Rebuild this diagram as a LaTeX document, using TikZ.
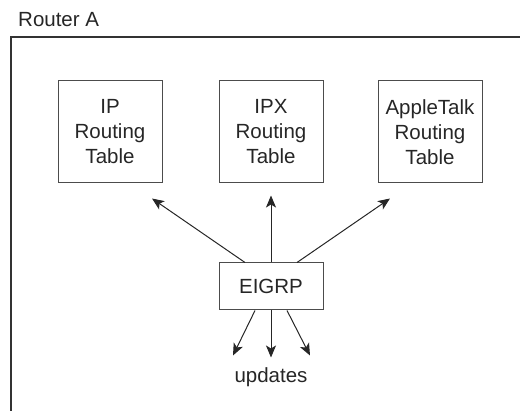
\documentclass[tikz,border=0pt]{standalone}
\usepackage{fontspec}
\setmainfont{Liberation Sans}
\usetikzlibrary{arrows.meta}

\begin{document}
\begin{tikzpicture}[
  x=1pt, y=-1pt,
  font=\fontsize{20.5}{25}\selectfont,
  table/.style={draw=black!70, line width=1pt, align=center, minimum width=104pt, minimum height=102pt, inner sep=0pt, text=black!85},
  proto/.style={draw=black!70, line width=1pt, minimum width=104pt, minimum height=47pt, inner sep=0pt, text=black!85},
  label/.style={inner sep=0pt, text=black!85},
  arrow/.style={-{Stealth[length=12pt, width=10pt, inset=3pt]}, line width=1pt, draw=black!85}
]
\useasboundingbox (0,0) rectangle (520,411);

% router frame, open to the right and below
\draw[line width=1.5pt, draw=black!80] (520,37) -- (11,37) -- (11,411);
\node[label, anchor=base west] (router) at (18,27) {Router A};

\node[table] (ip) at (110,132) {IP\\Routing\\Table};
\node[table] (ipx) at (271,132) {IPX\\Routing\\Table};
\node[table] (atalk) at (430,132) {AppleTalk\\Routing\\Table};

\node[proto] (eigrp) at (271,286.5) {EIGRP};
\node[label, anchor=base] (updates) at (271,383) {updates};

\coordinate (iptip) at ([shift={(42,15)}]ip.south);
\coordinate (ipxtip) at ([shift={(0,12)}]ipx.south);
\coordinate (atalktip) at ([shift={(-40,15)}]atalk.south);

\draw[arrow] ([xshift=-26pt]eigrp.north) -- (iptip);
\draw[arrow] (eigrp.north) -- (ipxtip);
\draw[arrow] ([xshift=26pt]eigrp.north) -- (atalktip);

\coordinate (upleft) at ([shift={(-38,45)}]eigrp.south);
\coordinate (upmid) at ([shift={(0,47)}]eigrp.south);
\coordinate (upright) at ([shift={(39,45)}]eigrp.south);

\draw[arrow] ([xshift=-16pt]eigrp.south) -- (upleft);
\draw[arrow] (eigrp.south) -- (upmid);
\draw[arrow] ([xshift=16pt]eigrp.south) -- (upright);

\end{tikzpicture}
\end{document}
